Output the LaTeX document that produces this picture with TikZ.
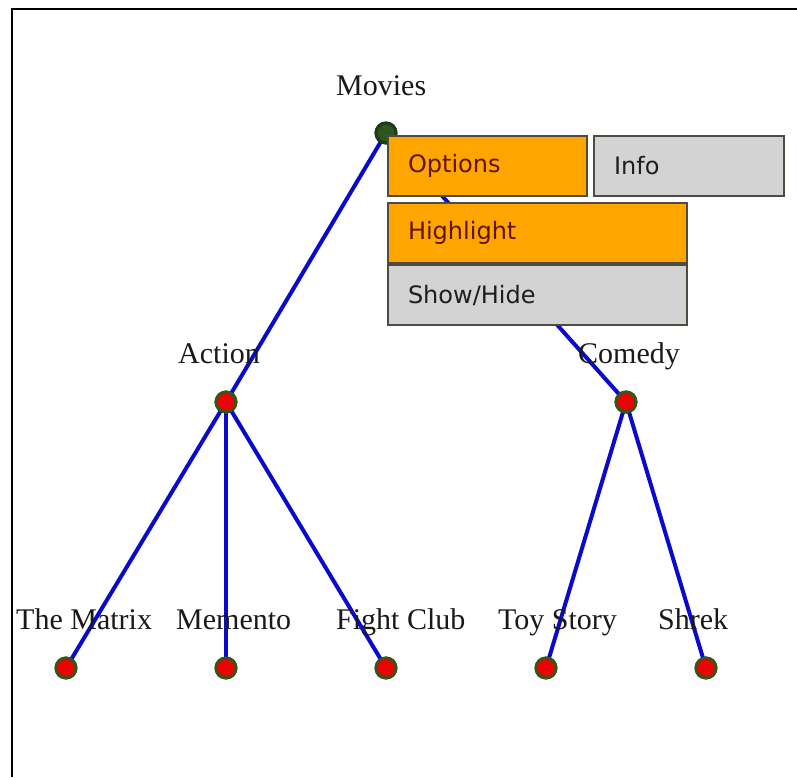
\documentclass[tikz,border=0pt]{standalone}
\usepackage{fontspec}
\setmainfont{Liberation Serif}
\newfontfamily\menufont{DejaVu Sans}
\definecolor{edgeblue}{RGB}{10,10,205}
\definecolor{leafred}{RGB}{240,0,0}
\definecolor{ringgreen}{RGB}{55,85,20}
\definecolor{rootgreen}{RGB}{45,85,30}
\definecolor{menuorange}{RGB}{255,165,0}
\definecolor{menugrey}{RGB}{211,211,211}
\definecolor{menuborder}{RGB}{80,75,65}
\definecolor{activetext}{RGB}{95,20,0}
\definecolor{plaintext}{RGB}{30,30,30}
\tikzset{
  treenode/.style={circle, fill=leafred, draw=ringgreen, line width=3pt, minimum size=20pt, inner sep=0pt},
  rootnode/.style={treenode, fill=rootgreen, draw=rootgreen!70!black},
  treelabel/.style={anchor=base west, inner sep=0pt, font=\fontsize{30}{30}\selectfont, text=black!90},
  treeedge/.style={draw=edgeblue, line width=4pt},
  menuitem/.style={rectangle, draw=menuborder, line width=2pt, anchor=north west,
    minimum height=60pt, inner xsep=20pt, inner ysep=0pt, align=left,
    font=\menufont\fontsize{24}{24}\selectfont},
  activeitem/.style={menuitem, fill=menuorange, text=activetext},
  plainitem/.style={menuitem, fill=menugrey, text=plaintext}
}
\begin{document}
\begin{tikzpicture}[x=1pt, y=-1pt]
  \useasboundingbox (0,0) rectangle (797,777);
  % frame edges
  \draw[line width=2.5pt] (12,777) -- (12,9) -- (797,9);

  % tree nodes
  \node[rootnode] (movies) at (386,133) {};
  \node[treenode] (action) at (226,402) {};
  \node[treenode] (comedy) at (626,402) {};
  \node[treenode] (matrix) at (66,668) {};
  \node[treenode] (memento) at (226,668) {};
  \node[treenode] (fight) at (386,668) {};
  \node[treenode] (toy) at (546,668) {};
  \node[treenode] (shrek) at (706,668) {};

  % connectors
  \draw[treeedge] (movies.center) -- (action.center);
  \draw[treeedge] (movies.center) -- (comedy.center);
  \draw[treeedge] (action.center) -- (matrix.center);
  \draw[treeedge] (action.center) -- (memento.center);
  \draw[treeedge] (action.center) -- (fight.center);
  \draw[treeedge] (comedy.center) -- (toy.center);
  \draw[treeedge] (comedy.center) -- (shrek.center);

  % redraw nodes over the connectors
  \node[rootnode] at (movies) {};
  \foreach \n in {action,comedy,matrix,memento,fight,toy,shrek}
    \node[treenode] at (\n) {};

  % labels
  \node[treelabel] (lmovies) at (336,95) {Movies};
  \node[treelabel] (laction) at (178,363) {Action};
  \node[treelabel] (lcomedy) at (578,363) {Comedy};
  \node[treelabel] (lmatrix) at (16,629) {The Matrix};
  \node[treelabel] (lmemento) at (176,629) {Memento};
  \node[treelabel] (lfight) at (336,629) {Fight Club};
  \node[treelabel] (ltoy) at (498,629) {Toy Story};
  \node[treelabel] (lshrek) at (658,629) {Shrek};

  % context menu
  \node[activeitem, text width=159pt] (options) at (387,135) {Options};
  \node[plainitem, text width=150pt] (info) at (593,135) {Info};
  \node[activeitem, text width=259pt] (highlight) at (387,202) {Highlight};
  \node[plainitem, text width=259pt] (showhide) at (highlight.south west) {Show/Hide};
\end{tikzpicture}
\end{document}
